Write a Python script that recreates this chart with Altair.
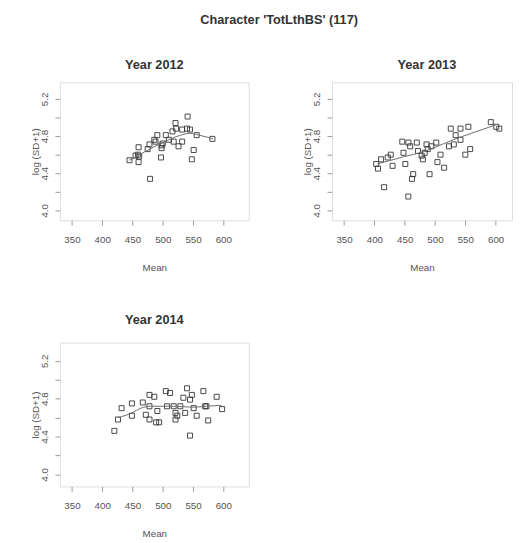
import altair as alt
import pandas as pd

# ---- data ----
mean_2012 = [445, 455, 459, 460, 460, 461, 475, 478, 479, 486, 488, 491, 497, 498, 498, 500, 505,
             510, 516, 518, 521, 522, 526, 532, 532, 540, 541, 545, 548, 551, 556, 582]
logsd_2012 = [4.54, 4.59, 4.60, 4.68, 4.52, 4.58, 4.66, 4.71, 4.34, 4.76, 4.74, 4.81, 4.57, 4.70,
              4.67, 4.72, 4.81, 4.76, 4.85, 4.74, 4.94, 4.88, 4.69, 4.74, 4.87, 4.88, 5.01, 4.87,
              4.55, 4.65, 4.81, 4.77]
smooth_x_2012 = [445, 470, 500, 525, 545, 560, 583]
smooth_y_2012 = [4.54, 4.63, 4.73, 4.80, 4.83, 4.81, 4.77]

mean_2013 = [403, 406, 411, 416, 422, 427, 430, 446, 448, 451, 456, 456, 459, 462, 464, 470, 472,
             478, 480, 483, 486, 488, 491, 494, 502, 504, 509, 515, 523, 526, 531, 534, 542, 542,
             550, 555, 558, 592, 601, 606]
logsd_2013 = [4.50, 4.45, 4.55, 4.25, 4.57, 4.60, 4.48, 4.74, 4.62, 4.50, 4.15, 4.73, 4.69, 4.34,
              4.39, 4.73, 4.64, 4.59, 4.55, 4.62, 4.71, 4.66, 4.39, 4.69, 4.73, 4.52, 4.60, 4.46,
              4.69, 4.88, 4.71, 4.81, 4.88, 4.76, 4.60, 4.90, 4.66, 4.95, 4.90, 4.88]
smooth_x_2013 = [405, 450, 480, 500, 530, 560, 600]
smooth_y_2013 = [4.50, 4.58, 4.63, 4.68, 4.76, 4.83, 4.92]

mean_2014 = [420, 426, 432, 449, 449, 467, 472, 478, 478, 478, 486, 489, 491, 494, 505, 507, 512,
             518, 521, 521, 524, 529, 534, 537, 540, 545, 545, 548, 551, 556, 567, 570, 572, 575,
             589, 598]
logsd_2014 = [4.46, 4.58, 4.70, 4.75, 4.62, 4.76, 4.63, 4.84, 4.72, 4.58, 4.82, 4.55, 4.67, 4.55,
              4.88, 4.72, 4.86, 4.72, 4.65, 4.58, 4.62, 4.72, 4.81, 4.65, 4.91, 4.41, 4.79, 4.84,
              4.70, 4.62, 4.88, 4.72, 4.72, 4.57, 4.82, 4.69]
smooth_x_2014 = [426, 449, 464, 480, 518, 551, 572, 597]
smooth_y_2014 = [4.60, 4.65, 4.70, 4.72, 4.72, 4.71, 4.72, 4.73]

x_ticks = [350, 400, 450, 500, 550, 600]
y_ticks = [4.0, 4.2, 4.4, 4.6, 4.8, 5.0, 5.2]
y_labelled = [4.0, 4.4, 4.8, 5.2]

FONT = "Liberation Sans"
LAB = "#555555"
TIT = "#333333"


def panel(year, xs, ys, sx, sy, width, height, xdom, ydom, title_dx=0, title_offset=11):
    pts = pd.DataFrame({"Mean": xs, "LogSD": ys, "kind": "pt"})
    sm = pd.DataFrame({"Mean": sx, "LogSD": sy, "kind": "smooth"})
    label_expr = ("indexof([" + ",".join(str(v) for v in y_labelled) +
                  "], round(datum.value*10)/10) >= 0 ? format(datum.value, '.1f') : ''")
    xaxis = alt.Axis(values=x_ticks, title="Mean", grid=False, domain=False,
                     tickColor="#999999", tickSize=5, tickWidth=1, labelOverlap=False,
                     labelFont=FONT, labelFontSize=10, labelColor=LAB, labelPadding=10,
                     titleFont=FONT, titleFontSize=10, titleColor=LAB, titleFontWeight="normal",
                     titlePadding=18)
    yaxis = alt.Axis(values=y_ticks, title="log (SD+1)", grid=False, domain=False,
                     tickColor="#999999", tickSize=5, tickWidth=1, labelOverlap=False,
                     labelFont=FONT, labelFontSize=10, labelColor=LAB, labelPadding=6,
                     labelAngle=270, labelAlign="center", labelBaseline="bottom",
                     labelExpr=label_expr,
                     titleFont=FONT, titleFontSize=10, titleColor=LAB, titleFontWeight="normal",
                     titleX=-25, titleY=height / 2, titleAngle=270, titleAlign="center",
                     titleBaseline="middle")
    x = alt.X("Mean:Q", scale=alt.Scale(domain=xdom, nice=False, zero=False), axis=xaxis)
    y = alt.Y("LogSD:Q", scale=alt.Scale(domain=ydom, nice=False, zero=False), axis=yaxis)
    points = alt.Chart(pts).mark_point(shape="square", size=26, filled=False, color="#333333",
                                       strokeWidth=1, opacity=0.9).encode(x=x, y=y)
    line = alt.Chart(sm).mark_line(color="#6a6a6a", strokeWidth=1,
                                   interpolate="monotone").encode(x=x, y=y)
    return alt.layer(points, line).properties(
        width=width, height=height,
        title=alt.TitleParams(f"Year  {year}", font=FONT, fontSize=13, fontWeight="bold",
                              color=TIT, offset=title_offset, dx=title_dx))


p1 = panel(2012, mean_2012, logsd_2012, smooth_x_2012, smooth_y_2012,
           193, 141, [330, 642], [3.895, 5.379])
p2 = panel(2013, mean_2013, logsd_2013, smooth_x_2013, smooth_y_2013,
           184, 141, [330, 627], [3.895, 5.379], title_dx=5)
p3 = panel(2014, mean_2014, logsd_2014, smooth_x_2014, smooth_y_2014,
           193, 147, [330, 642], [3.873, 5.393], title_offset=16)

chart = alt.concat(p1, p2, p3, columns=2, spacing={"row": 41, "column": 53}).properties(
    title=alt.TitleParams("Character 'TotLthBS'  (117)", font=FONT, fontSize=13,
                          fontWeight="bold", color=TIT, anchor="middle", dx=8, offset=32),
    padding={"left": 22, "top": 0, "right": 0, "bottom": 0},
).configure_view(stroke="#aaaaaa", strokeWidth=1.5).configure(background="white")

chart.save("out.html", embed_options={"renderer": "svg", "actions": False})
